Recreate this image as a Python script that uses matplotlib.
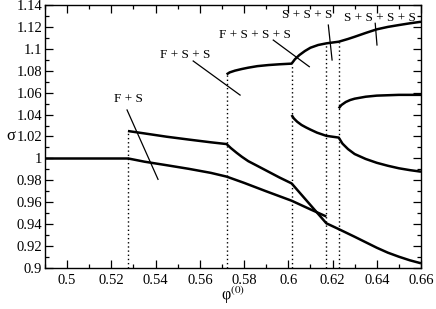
import matplotlib
matplotlib.use("Agg")
import matplotlib.pyplot as plt
from matplotlib.ticker import MultipleLocator

plt.rcParams['font.family'] = ['Liberation Serif', 'DejaVu Serif']
plt.rcParams['mathtext.fontset'] = 'stix'

# ---- data ----
# single solution before first bifurcation
a_x = [0.49, 0.5275]
a_y = [1.0, 1.0]

# lower branch starting at 0.5275, ends at 0.6172
b_x = [0.5275, 0.535, 0.545, 0.555, 0.565, 0.5721, 0.58, 0.59, 0.6015, 0.61, 0.6172]
b_y = [1.0, 0.997, 0.9938, 0.9905, 0.9868, 0.9834, 0.9777, 0.9700, 0.9614, 0.9535, 0.9470]

# upper branch from 0.5275 continuing to 0.66
c_x = [0.5275, 0.535, 0.545, 0.555, 0.565, 0.5721, 0.574, 0.5766, 0.579, 0.5819, 0.586,
       0.591, 0.596, 0.6015, 0.6172, 0.6228, 0.63, 0.635, 0.64, 0.645, 0.65, 0.655, 0.66]
c_y = [1.025, 1.0228, 1.0198, 1.0172, 1.0147, 1.0131, 1.0095, 1.0052, 1.0015, 0.9975, 0.9932,
       0.9879, 0.9826, 0.9772, 0.9408, 0.9355, 0.9285, 0.9235, 0.9185, 0.9140, 0.9103, 0.9070,
       0.9043]

# top branch born at 0.5721
d_x = [0.5721, 0.5735, 0.5759, 0.579, 0.5819, 0.586, 0.591, 0.596, 0.6015, 0.603, 0.605,
       0.6075, 0.61, 0.6135, 0.6172, 0.6228, 0.627, 0.63, 0.635, 0.64, 0.645, 0.65, 0.655, 0.66]
d_y = [1.0767, 1.0785, 1.0801, 1.0816, 1.0828, 1.0842, 1.0852, 1.0859, 1.0865, 1.0905, 1.0943,
       1.0980, 1.1010, 1.1035, 1.1050, 1.1065, 1.1090, 1.1110, 1.1145, 1.1178, 1.1200, 1.1217,
       1.1233, 1.1247]

# branch born at 0.6015
e_x = [0.6015, 0.6025, 0.604, 0.606, 0.608, 0.61, 0.613, 0.6172, 0.6228, 0.6245, 0.627,
       0.63, 0.635, 0.64, 0.645, 0.65, 0.655, 0.66]
e_y = [1.0396, 1.0365, 1.0335, 1.0305, 1.0283, 1.0263, 1.0235, 1.0206, 1.0190, 1.0135, 1.0085,
       1.0040, 0.9995, 0.9960, 0.9933, 0.9910, 0.9893, 0.9879]

# branch born at 0.6228
f_x = [0.6228, 0.624, 0.626, 0.628, 0.63, 0.635, 0.64, 0.65, 0.66]
f_y = [1.0457, 1.0487, 1.0515, 1.0533, 1.0545, 1.0563, 1.0573, 1.0580, 1.0580]

# vertical dotted bifurcation lines
bif_x = [0.5275, 0.5721, 0.6015, 0.6172, 0.6228]
bif_top = [1.025, 1.0767, 1.0865, 1.1050, 1.1065]

# annotations: label, text position, pointer line start, end
ann_labels = ['F + S', 'F + S + S', 'F + S + S + S', 'S + S + S', 'S + S + S + S']
ann_text_x = [0.5275, 0.5533, 0.5847, 0.6084, 0.6414]
ann_text_y = [1.0540, 1.0943, 1.1128, 1.1308, 1.1280]
ann_l_x0 = [0.5271, 0.5570, 0.5932, 0.6181, 0.6393]
ann_l_y0 = [1.0442, 1.0889, 1.1080, 1.1217, 1.1233]
ann_l_x1 = [0.5411, 0.5782, 0.6095, 0.6198, 0.6401]
ann_l_y1 = [0.9809, 1.0578, 1.0837, 1.0898, 1.1035]

x_ticks = [0.5, 0.52, 0.54, 0.56, 0.58, 0.6, 0.62, 0.64, 0.66]
x_ticklabels = ['0.5', '0.52', '0.54', '0.56', '0.58', '0.6', '0.62', '0.64', '0.66']
y_ticks = [0.9, 0.92, 0.94, 0.96, 0.98, 1.0, 1.02, 1.04, 1.06, 1.08, 1.1, 1.12, 1.14]
y_ticklabels = ['0.9', '0.92', '0.94', '0.96', '0.98', '1', '1.02', '1.04', '1.06', '1.08',
                '1.1', '1.12', '1.14']

# ---- figure ----
fig = plt.figure(figsize=(4.36, 3.09), dpi=100)
ax = fig.add_axes([45/436, 41/309, 376/436, 263/309])

for bx, bt in zip(bif_x, bif_top):
    ax.vlines(bx, 0.9, bt, colors='black', linestyles=(0, (1, 2)), linewidth=1.0)

for xs, ys in [(a_x, a_y), (b_x, b_y), (c_x, c_y), (d_x, d_y), (e_x, e_y), (f_x, f_y)]:
    ax.plot(xs, ys, color='black', linewidth=1.8, solid_capstyle='butt',
            solid_joinstyle='round')

for lab, tx, ty, x0, y0, x1, y1 in zip(ann_labels, ann_text_x, ann_text_y,
                                       ann_l_x0, ann_l_y0, ann_l_x1, ann_l_y1):
    ax.text(tx, ty, lab, ha='center', va='center', fontsize=9.5)
    ax.plot([x0, x1], [y0, y1], color='black', linewidth=0.9)

ax.set_xlim(0.49, 0.66)
ax.set_ylim(0.9, 1.14)
ax.set_xticks(x_ticks)
ax.set_xticklabels(x_ticklabels)
ax.set_yticks(y_ticks)
ax.set_yticklabels(y_ticklabels)
ax.xaxis.set_minor_locator(MultipleLocator(0.01))
ax.yaxis.set_minor_locator(MultipleLocator(0.01))
ax.tick_params(which='both', direction='in', top=True, right=True, labelsize=10.5)
ax.tick_params(which='major', length=6, width=0.9)
ax.tick_params(which='minor', length=3, width=0.9)
ax.tick_params(axis='y', pad=2)
ax.tick_params(axis='x', pad=4)
for s in ax.spines.values():
    s.set_linewidth(1.0)

ax.set_xlabel('φ$^{(0)}$', fontsize=11.5, labelpad=-1)
ax.set_ylabel('σ', fontsize=12, rotation=0, labelpad=4, va='center')

fig.savefig('out.png', dpi=100)
